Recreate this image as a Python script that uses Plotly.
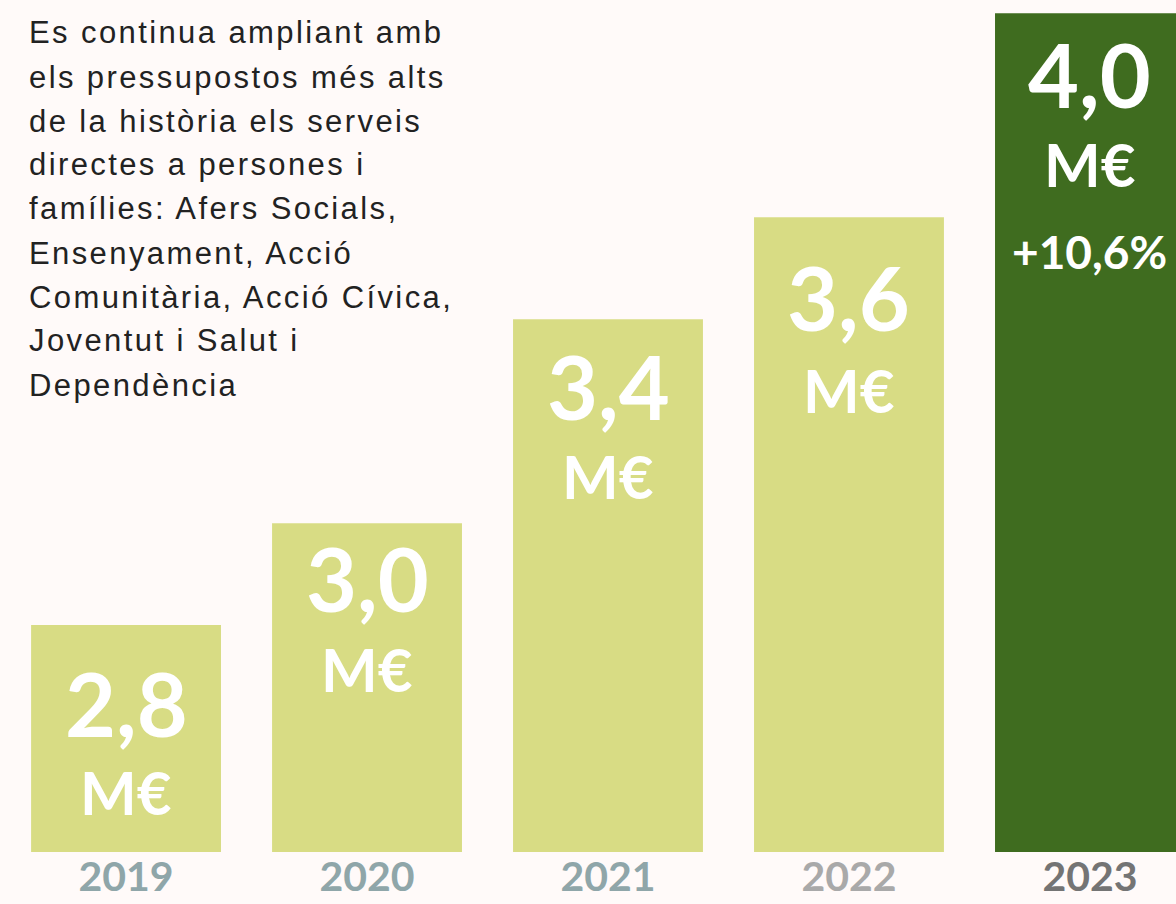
import plotly.graph_objects as go

# ---- data ----
years = ["2019", "2020", "2021", "2022", "2023"]
values = [2.8, 3.0, 3.4, 3.6, 4.0]
value_labels = ["2,8", "3,0", "3,4", "3,6", "4,0"]
unit_label = "M€"
growth_year = "2023"
growth_label = "+10,6%"
paragraph_lines = [
    "Es continua ampliant amb",
    "els pressupostos més alts",
    "de la història els serveis",
    "directes a persones i",
    "famílies: Afers Socials,",
    "Ensenyament, Acció",
    "Comunitària, Acció Cívica,",
    "Joventut i Salut i",
    "Dependència",
]

# ---- styles ----
bg = "#fffaf9"
bar_colors = ["#d8dc84", "#d8dc84", "#d8dc84", "#d8dc84", "#3f6c1f"]
year_colors = ["#8fa6a9", "#8fa6a9", "#8fa6a9", "#a9a9a9", "#747474"]
num_offsets = [78, 55, 67, 80, 61]      # px below bar top (center of number)
unit_offsets = [167, 146, 157, 173, 151]
growth_offset = 238

W, H, B = 1176, 904, 52
PH = H - B

fig = go.Figure()
fig.add_trace(go.Bar(
    x=years, y=values, width=0.788,
    marker=dict(color=bar_colors, line=dict(width=0)),
    hoverinfo="skip",
))

annotations = []
for i, (v, lab) in enumerate(zip(values, value_labels)):
    annotations.append(dict(
        x=i, y=v, xref="x", yref="y", text=lab, showarrow=False,
        xanchor="center", yanchor="middle", yshift=-num_offsets[i],
        font=dict(family="Lato", size=88, color="white", weight="bold"),
    ))
    annotations.append(dict(
        x=i, y=v, xref="x", yref="y", text=unit_label, showarrow=False,
        xanchor="center", yanchor="middle", yshift=-unit_offsets[i],
        font=dict(family="Lato", size=60, color="white", weight="bold"),
    ))
gi = years.index(growth_year)
annotations.append(dict(
    x=gi, y=values[gi], xref="x", yref="y", text=growth_label,
    showarrow=False, xanchor="center", yanchor="middle", yshift=-growth_offset,
    font=dict(family="Lato", size=46, color="white", weight="bold"),
))

for k, line in enumerate(paragraph_lines):
    cy = 33 + 44 * k
    annotations.append(dict(
        x=27 / W, y=1 - cy / PH, xref="paper", yref="paper",
        text='<span style="letter-spacing:2.4px">' + line + "</span>",
        showarrow=False, xanchor="left", yanchor="middle",
        font=dict(family="Liberation Sans", size=31, color="#222222"),
    ))

ticktext = ['<span style="color:%s">%s</span>' % (c, y) for c, y in zip(year_colors, years)]

fig.update_layout(
    width=W, height=H,
    margin=dict(l=0, r=0, t=0, b=B, pad=0, autoexpand=False),
    paper_bgcolor=bg, plot_bgcolor=bg,
    showlegend=False,
    annotations=annotations,
    xaxis=dict(
        type="category", range=[-0.523, 4.357],
        showgrid=False, zeroline=False, showline=False, ticks="",
        tickvals=years, ticktext=ticktext,
        tickfont=dict(family="Lato", size=41, weight="bold"),
        ticklabelstandoff=-3, automargin=False,
        fixedrange=True,
    ),
    yaxis=dict(range=[2.355, 4.026], visible=False, fixedrange=True,
               automargin=False),
)

fig.write_html(
    "out.html",
    config={"displayModeBar": False},
    post_script="document.body.style.margin='0';document.body.style.background='%s';" % bg,
)
